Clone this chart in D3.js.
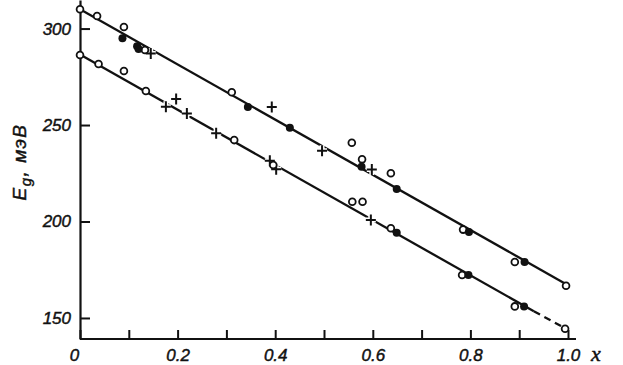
<!DOCTYPE html>
<html>
<head>
<meta charset="utf-8">
<script src="https://cdn.jsdelivr.net/npm/d3@7"></script>
<style>
  body { margin: 0; background: #fff; }
  text { font-family: "Liberation Sans", Arial, sans-serif; font-style: italic; fill: #111; stroke: #111; stroke-width: 0.45; }
</style>
</head>
<body>
<div id="chart"></div>
<script>
let width = 623,
height = 365;

// fitted lines (x, Eg)
let upperLine = [[0, 310], [1.0, 167]];
let lowerSolid = [[0, 286.5], [0.93, 153.5]];
let lowerDash = [[0.93, 153.5], [0.99, 145.2]];

// upper series
let upHollowX = [0, 0.035, 0.09, 0.133, 0.311, 0.557, 0.578, 0.637, 0.785, 0.891, 0.996];
let upHollowY = [310, 306.5, 300.8, 288.9, 267, 240.8, 232.2, 225, 195.8, 179, 166.7];
let upFilledX = [0.087, 0.117, 0.12, 0.344, 0.43, 0.577, 0.649, 0.797, 0.911];
let upFilledY = [295, 290.8, 289.4, 259.3, 248.6, 228.4, 216.8, 194.6, 179];
let upCrossX = [0.145, 0.393, 0.496, 0.598];
let upCrossY = [287.1, 259.3, 236.7, 227];

// lower series
let lowHollowX = [0, 0.038, 0.09, 0.135, 0.316, 0.396, 0.558, 0.579, 0.637, 0.783, 0.891, 0.994];
let lowHollowY = [286.3, 281.6, 278, 267.6, 242.2, 229.3, 210.2, 210.2, 196.5, 172.3, 156, 144.4];
let lowFilledX = [0.649, 0.796, 0.91];
let lowFilledY = [194.2, 172.3, 156];
let lowCrossX = [0.176, 0.197, 0.219, 0.279, 0.389, 0.402, 0.596];
let lowCrossY = [259.5, 263.5, 256, 245.7, 231.5, 227.1, 200.8];

let xTicks = [0, 0.1, 0.2, 0.3, 0.4, 0.5, 0.6, 0.7, 0.8, 0.9, 1.0];
let yTicks = [150, 200, 250, 300];

let svg = d3.select("#chart")
    .append("svg")
    .attr("width", width)
    .attr("height", height);

let x = d3.scaleLinear().domain([0, 1]).range([80, 568]);
let y = d3.scaleLinear().domain([139.1, 314.8]).range([339, 0]);

//x axis
let xAxis = d3.axisBottom(x)
    .tickValues(xTicks)
    .tickSizeInner(-9)
    .tickSizeOuter(0)
    .tickPadding(10)
    .tickFormat(function(d){
        if (d === 0) return "0";
        return (Math.round(d * 10) % 2 === 0) ? d3.format(".1f")(d) : "";
    });
let gx = svg.append("g")
    .attr("transform", "translate(0,339)")
    .call(xAxis);
gx.select(".domain").remove();
gx.append("line")
    .attr("x1", 80).attr("x2", 576)
    .attr("stroke", "#111").attr("stroke-width", 2.2);
gx.selectAll(".tick line").attr("stroke", "#111").attr("stroke-width", 2);
gx.selectAll(".tick text")
    .attr("font-size", 17)
    .attr("font-family", "Liberation Sans, Arial, sans-serif")
    .attr("fill", "#111");
gx.selectAll(".tick").filter(d => d === 0).select("text").attr("dx", -6);

svg.append("text")
    .attr("x", 591).attr("y", 361)
    .attr("font-size", 22)
    .style("font-family", "Liberation Serif, serif")
    .text("x");

//y axis
let yAxis = d3.axisLeft(y)
    .tickValues(yTicks)
    .tickSizeInner(-10)
    .tickSizeOuter(0)
    .tickPadding(9);
let gy = svg.append("g")
    .attr("transform", "translate(80,0)")
    .call(yAxis);
gy.select(".domain").attr("stroke", "#111").attr("stroke-width", 2.2);
gy.selectAll(".tick line").attr("stroke", "#111").attr("stroke-width", 2);
gy.selectAll(".tick text")
    .attr("font-size", 17)
    .attr("font-family", "Liberation Sans, Arial, sans-serif")
    .attr("fill", "#111");

//y label
let yl = svg.append("text")
    .attr("transform", "translate(26,162) rotate(-90)")
    .attr("text-anchor", "middle")
    .attr("font-size", 19)
    .attr("letter-spacing", 1.5);
yl.append("tspan").text("E");
yl.append("tspan").attr("dy", 5).attr("font-size", 15).text("g");
yl.append("tspan").attr("dy", -5).text(", мэВ");

//lines
let line = d3.line().x(d => x(d[0])).y(d => y(d[1]));
svg.append("path").datum(upperLine).attr("d", line)
    .attr("fill", "none").attr("stroke", "#111").attr("stroke-width", 2.3);
svg.append("path").datum(lowerSolid).attr("d", line)
    .attr("fill", "none").attr("stroke", "#111").attr("stroke-width", 2.3);
svg.append("path").datum(lowerDash).attr("d", line)
    .attr("fill", "none").attr("stroke", "#111").attr("stroke-width", 2.3)
    .attr("stroke-dasharray", "7,5");

//markers
function zip(xs, ys){ return xs.map((v, i) => [v, ys[i]]); }

let crosses = zip(upCrossX, upCrossY).concat(zip(lowCrossX, lowCrossY));
let crossPath = function(d){
    let cx = x(d[0]), cy = y(d[1]);
    return "M" + (cx - 5) + "," + cy + "H" + (cx + 5) +
        "M" + cx + "," + (cy - 5.5) + "V" + (cy + 5.5);
};
// white gap under crosses
svg.selectAll(".halo").data(crosses).enter()
    .append("path").attr("class", "halo")
    .attr("d", crossPath)
    .attr("stroke", "#fff").attr("stroke-width", 5);
svg.selectAll(".cross").data(crosses).enter()
    .append("path").attr("class", "cross")
    .attr("d", crossPath)
    .attr("stroke", "#111").attr("stroke-width", 2);

let hollow = zip(upHollowX, upHollowY).concat(zip(lowHollowX, lowHollowY));
svg.selectAll(".hollow").data(hollow).enter()
    .append("circle").attr("class", "hollow")
    .attr("cx", d => x(d[0])).attr("cy", d => y(d[1]))
    .attr("r", 3.4)
    .attr("fill", "#fff").attr("stroke", "#111").attr("stroke-width", 1.8);

let filled = zip(upFilledX, upFilledY).concat(zip(lowFilledX, lowFilledY));
svg.selectAll(".filled").data(filled).enter()
    .append("circle").attr("class", "filled")
    .attr("cx", d => x(d[0])).attr("cy", d => y(d[1]))
    .attr("r", 4)
    .attr("fill", "#111");
</script>
</body>
</html>
